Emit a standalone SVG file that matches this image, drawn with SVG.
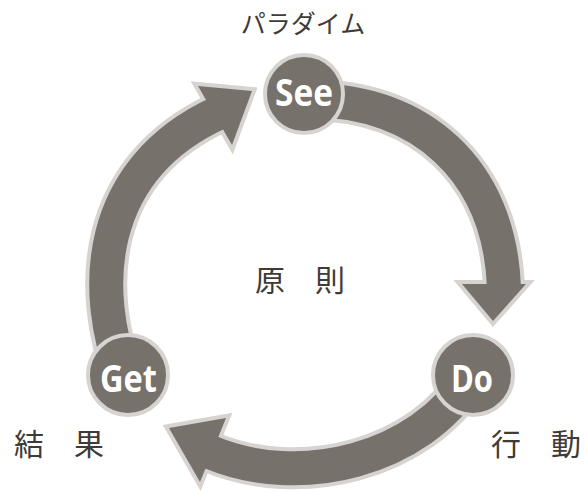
<svg xmlns="http://www.w3.org/2000/svg" width="586" height="492" viewBox="0 0 586 492">
  <style>
    .shaft-o { fill: none; stroke: #d6d3d0; stroke-width: 42; }
    .shaft-i { fill: none; stroke: #77716b; stroke-width: 34; }
    .head-o { fill: #d6d3d0; stroke: #d6d3d0; stroke-width: 8; stroke-linejoin: miter; stroke-miterlimit: 10; }
    .head-i { fill: #77716b; }
    .node circle { fill: #77716b; stroke: #d6d3d0; stroke-width: 4; }
    .node text.nm { font-family: "Open Sans", "Noto Sans", sans-serif; font-weight: 700; font-size: 38px; fill: #ffffff; text-anchor: middle; }
    .lbl { font-family: "Noto Sans CJK JP", "Noto Sans CJK SC", sans-serif; fill: #3f3b37; }
  </style>
  <defs>
    <path id="s1" d="M 310 100 C 420 100, 500 170, 504 288"/>
    <polygon id="h1" points="462,284 526,284 493,321"/>
    <path id="s2" d="M 470 378 C 420 460, 300 490, 210 452"/>
    <polygon id="h2" points="169,428 226,418 200,482"/>
    <path id="s3" d="M 125 380 C 90 290, 95 170, 218 113"/>
    <polygon id="h3" points="252,91 198,86 232,145"/>
  </defs>
  <rect width="586" height="492" fill="#ffffff"/>
  <g id="connectors">
    <use href="#s1" class="shaft-o"/>
    <use href="#h1" class="head-o"/>
    <use href="#s2" class="shaft-o"/>
    <use href="#h2" class="head-o"/>
    <use href="#s3" class="shaft-o"/>
    <use href="#h3" class="head-o"/>
    <use href="#s1" class="shaft-i"/>
    <use href="#h1" class="head-i"/>
    <use href="#s2" class="shaft-i"/>
    <use href="#h2" class="head-i"/>
    <use href="#s3" class="shaft-i"/>
    <use href="#h3" class="head-i"/>
  </g>
  <g id="node-see" class="node">
    <circle cx="304" cy="94" r="39"/>
    <text class="nm" x="304" y="106" textLength="58" lengthAdjust="spacingAndGlyphs">See</text>
    <text class="lbl" x="303" y="33" font-size="25" text-anchor="middle">パラダイム</text>
  </g>
  <g id="node-do" class="node">
    <circle cx="473" cy="375" r="40"/>
    <text class="nm" x="472" y="392" textLength="42" lengthAdjust="spacingAndGlyphs">Do</text>
    <text class="lbl" x="491" y="455" font-size="30">行　動</text>
  </g>
  <g id="node-get" class="node">
    <circle cx="128" cy="375" r="40"/>
    <text class="nm" x="128.5" y="392" textLength="57" lengthAdjust="spacingAndGlyphs">Get</text>
    <text class="lbl" x="14" y="455" font-size="30">結　果</text>
  </g>
  <g id="center-label">
    <text class="lbl" x="300" y="291" font-size="30" text-anchor="middle">原　則</text>
  </g>
</svg>
